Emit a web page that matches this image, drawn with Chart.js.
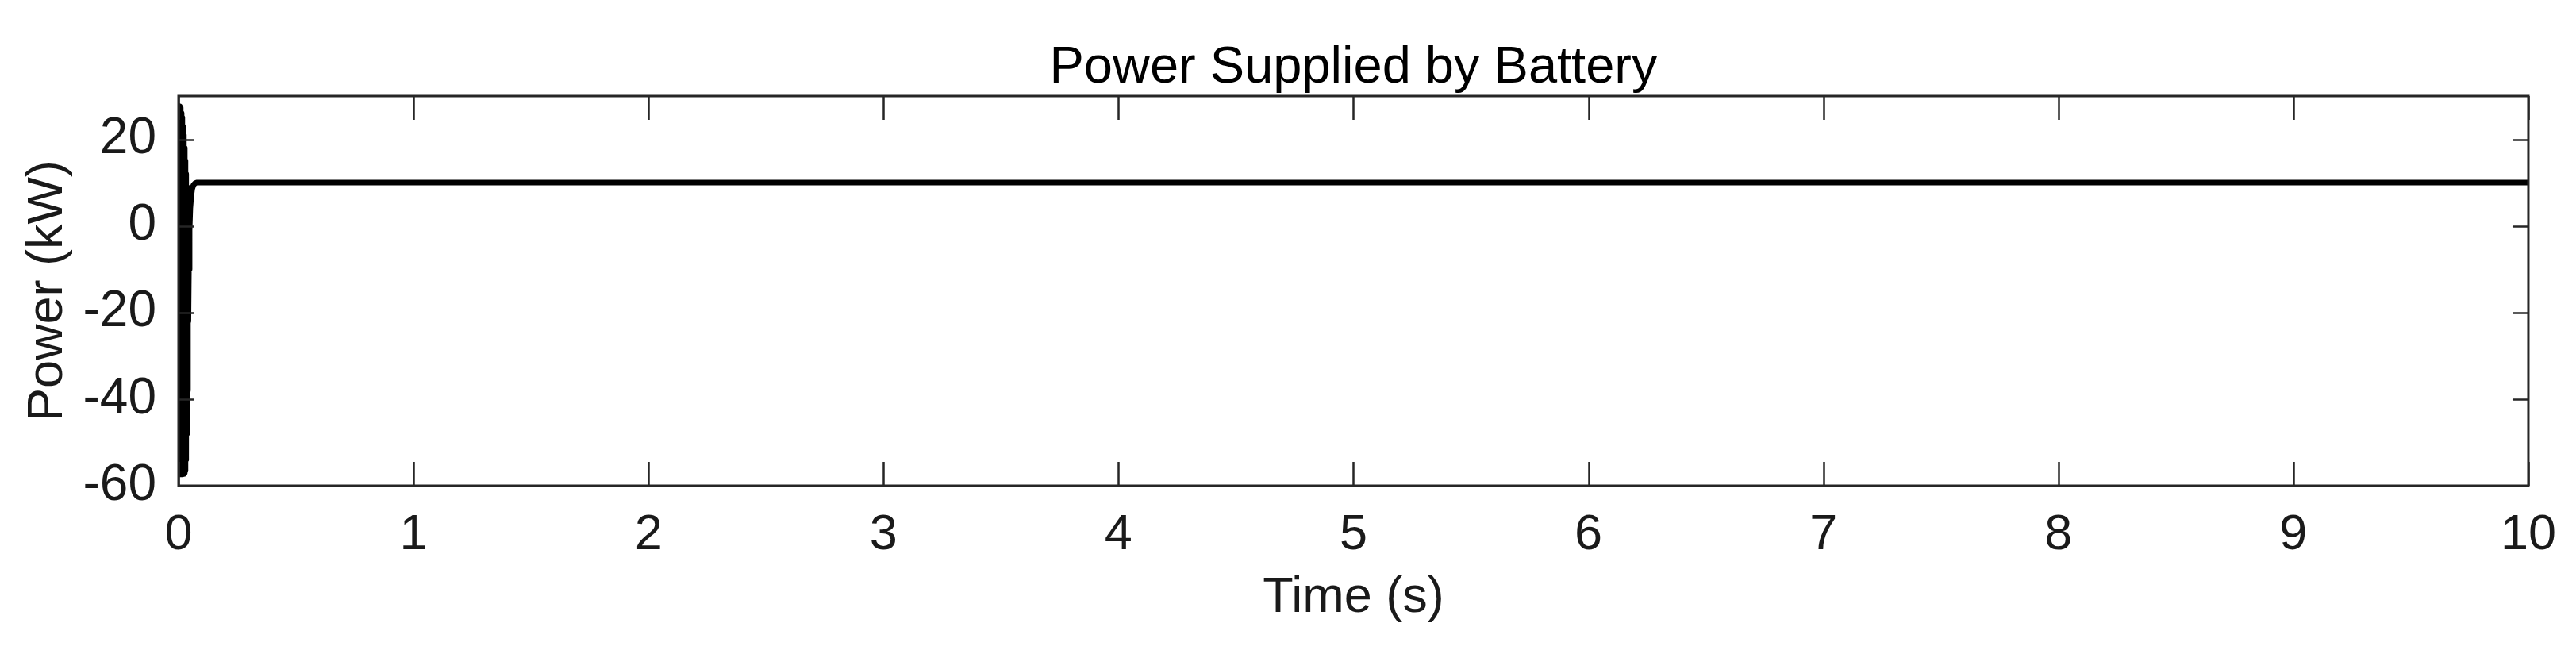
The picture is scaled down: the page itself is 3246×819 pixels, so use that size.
<!DOCTYPE html>
<html>
<head>
<meta charset="utf-8">
<script src="https://cdn.jsdelivr.net/npm/chart.js@4.4.1/dist/chart.umd.min.js"></script>
<style>
  html, body { margin: 0; padding: 0; background: #ffffff; }
  #wrap { width: 3246px; height: 819px; position: relative; }
</style>
</head>
<body>
<div id="wrap"><canvas id="c"></canvas></div>
<script>
// ---- Data ----
const chartTitle = "Power Supplied by Battery";
const xAxisTitle = "Time (s)";
const yAxisTitle = "Power (kW)";
const xTickValues = [0, 1, 2, 3, 4, 5, 6, 7, 8, 9, 10];
const yTickValues = [-60, -40, -20, 0, 20];
const timeSec = [0, 0.001, 0.0025, 0.004, 0.0055, 0.007, 0.0085, 0.010, 0.0115, 0.013, 0.0145, 0.016, 0.0175, 0.019, 0.0205, 0.022, 0.0235, 0.025, 0.0265, 0.028, 0.0295, 0.031, 0.0325, 0.034, 0.0355, 0.037, 0.0385, 0.040, 0.042, 0.044, 0.047, 0.050, 0.054, 0.058, 0.063, 0.069, 0.076, 0.09, 0.2, 0.5, 1, 2, 3, 4, 5, 6, 7, 8, 9, 10];
const powerKW = [0, 27.6, -57.4, 27.6, -57.4, 27.3, -57.4, 27, -57.4, 26, -57.4, 25, -57.3, 23, -57.3, 21, -57.2, 18, -57, 15, -56.5, 12, -54, 9, -48, 5, -38, 0, -22, -10, -1, 4, 6.8, 8.5, 9.4, 9.8, 10, 10, 10, 10, 10, 10, 10, 10, 10, 10, 10, 10, 10, 10];

const points = timeSec.map((t, i) => ({ x: t, y: powerKW[i] }));

const FONT = "'Liberation Sans', Arial, Helvetica, sans-serif";
const AXIS_COLOR = '#262626';
const TEXT_COLOR = '#1a1a1a';

// Box + inward tick marks on all four sides (MATLAB style)
const boxTicks = {
  id: 'boxTicks',
  afterDatasetsDraw(chart) {
    const { ctx, chartArea: a, scales } = chart;
    const xs = scales.x, ys = scales.y;
    ctx.save();
    ctx.strokeStyle = AXIS_COLOR;
    ctx.lineWidth = 2.5;
    ctx.beginPath();
    xTickValues.forEach(v => {
      const px = Math.round(xs.getPixelForValue(v)) + 0.5;
      ctx.moveTo(px, a.bottom); ctx.lineTo(px, a.bottom - 30);
      ctx.moveTo(px, a.top); ctx.lineTo(px, a.top + 30);
    });
    yTickValues.forEach(v => {
      const py = Math.round(ys.getPixelForValue(v)) + 0.5;
      ctx.moveTo(a.left, py); ctx.lineTo(a.left + 20, py);
      ctx.moveTo(a.right, py); ctx.lineTo(a.right - 20, py);
    });
    ctx.stroke();
    ctx.lineWidth = 3;
    ctx.strokeRect(a.left, a.top, a.right - a.left, a.bottom - a.top);
    ctx.restore();
  }
};

new Chart(document.getElementById('c'), {
  type: 'line',
  data: {
    datasets: [{
      data: points,
      borderColor: '#000000',
      borderWidth: 7,
      pointRadius: 0,
      tension: 0,
      fill: false,
      borderJoinStyle: 'round'
    }]
  },
  options: {
    responsive: true,
    maintainAspectRatio: false,
    animation: false,
    layout: { padding: { left: 0, right: 45, top: 0, bottom: 0 } },
    plugins: {
      legend: { display: false },
      tooltip: { enabled: false },
      title: {
        display: true,
        fullSize: false,
        text: chartTitle,
        color: '#000000',
        font: { family: FONT, size: 65, weight: 'normal', lineHeight: 1 },
        padding: { top: 54, bottom: 2 }
      }
    },
    scales: {
      x: {
        type: 'linear',
        min: 0,
        max: 10,
        afterFit: (s) => { s.height = 207; },
        afterBuildTicks: (s) => { s.ticks = xTickValues.map(v => ({ value: v })); },
        grid: { display: false, drawTicks: false },
        border: { display: false },
        ticks: {
          color: TEXT_COLOR,
          padding: 25,
          maxRotation: 0,
          font: { family: FONT, size: 63, lineHeight: 1.2 },
          callback: (v) => String(v)
        },
        title: {
          display: true,
          text: xAxisTitle,
          color: TEXT_COLOR,
          font: { family: FONT, size: 63, lineHeight: 1.2 },
          padding: { top: 0, bottom: 28 }
        }
      },
      y: {
        type: 'linear',
        min: -60,
        max: 30,
        afterFit: (s) => { s.width = 225; },
        afterBuildTicks: (s) => { s.ticks = yTickValues.map(v => ({ value: v })); },
        grid: { display: false, drawTicks: false },
        border: { display: false },
        ticks: {
          color: TEXT_COLOR,
          padding: 28,
          font: { family: FONT, size: 64 },
          callback: (v) => String(v)
        },
        title: {
          display: true,
          text: yAxisTitle,
          color: TEXT_COLOR,
          font: { family: FONT, size: 63, lineHeight: 1.2 },
          padding: { top: 23, bottom: 0 }
        }
      }
    }
  },
  plugins: [boxTicks]
});
</script>
</body>
</html>
